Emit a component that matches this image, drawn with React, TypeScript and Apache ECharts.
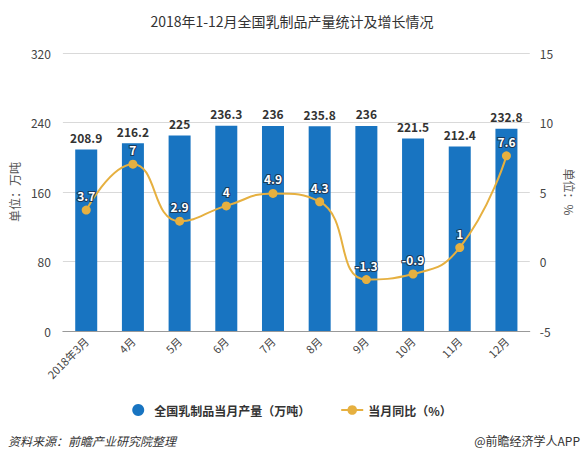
import React, { useEffect, useRef } from "react";
import * as echarts from "echarts";

const categories = ["2018年3月", "4月", "5月", "6月", "7月", "8月", "9月", "10月", "11月", "12月"];
const production = [208.9, 216.2, 225, 236.3, 236, 235.8, 236, 221.5, 212.4, 232.8];
const yoy = [3.7, 7, 2.9, 4, 4.9, 4.3, -1.3, -0.9, 1, 7.6];
const seriesNames = ["全国乳制品当月产量（万吨）", "当月同比（%）"];
const titleText = "2018年1-12月全国乳制品产量统计及增长情况";
const sourceText = "资料来源：前瞻产业研究院整理";
const brandText = "@前瞻经济学人APP";

const FONT = "'Microsoft YaHei', 'Noto Sans CJK SC', sans-serif";

export default function App() {
  const ref = useRef<HTMLDivElement>(null);
  useEffect(() => {
    if (!ref.current) return;
    document.body.style.margin = "0";
    const chart = echarts.init(ref.current, null, { renderer: "svg" });
    chart.setOption({
      animation: false,
      backgroundColor: "#fff",
      textStyle: { fontFamily: FONT },
      title: {
        text: titleText,
        left: "center",
        top: 9,
        textStyle: { fontSize: 14, fontWeight: "normal", color: "#333", fontFamily: FONT },
      },
      legend: {
        bottom: 40,
        left: "center",
        itemGap: 30,
        itemWidth: 22,
        itemHeight: 12,
        textStyle: { fontSize: 12, fontWeight: "bold", color: "#333", fontFamily: FONT },
        data: [
          { name: seriesNames[0], icon: "circle" },
          { name: seriesNames[1] },
        ],
      },
      grid: { left: 61, right: 54, top: 53, bottom: 130 },
      xAxis: {
        type: "category",
        data: categories,
        axisLine: { lineStyle: { color: "#999" } },
        axisTick: { alignWithLabel: true, lineStyle: { color: "#999" } },
        axisLabel: { rotate: 45, fontSize: 11, color: "#444", margin: 8, interval: 0 },
      },
      yAxis: [
        {
          type: "value",
          min: 0,
          max: 320,
          interval: 80,
          name: "单位：万吨",
          nameLocation: "middle",
          nameRotate: 90,
          nameGap: 36,
          nameTextStyle: { fontSize: 12, color: "#555" },
          axisLine: { show: false },
          axisTick: { show: false },
          axisLabel: { fontSize: 12, color: "#444", margin: 12 },
          splitLine: { lineStyle: { color: "#d9d9d9" } },
        },
        {
          type: "value",
          min: -5,
          max: 15,
          interval: 5,
          name: "单位：%",
          nameLocation: "middle",
          nameRotate: -90,
          nameGap: 30,
          nameTextStyle: { fontSize: 12, color: "#555" },
          axisLine: { show: false },
          axisTick: { show: false },
          axisLabel: { fontSize: 12, color: "#444", margin: 10 },
          splitLine: { show: false },
        },
      ],
      series: [
        {
          name: seriesNames[0],
          type: "bar",
          data: production,
          barWidth: 22,
          itemStyle: { color: "#1874C1" },
          label: {
            show: true,
            position: "top",
            distance: 6,
            fontSize: 12,
            fontWeight: "bold",
            color: "#333",
          },
        },
        {
          name: seriesNames[1],
          type: "line",
          yAxisIndex: 1,
          data: yoy,
          smooth: true,
          symbol: "circle",
          symbolSize: 9,
          itemStyle: { color: "#E6B040" },
          lineStyle: { color: "#E6B040", width: 2 },
          label: {
            show: true,
            position: "top",
            distance: 4,
            fontSize: 12,
            fontWeight: "bold",
            color: "#fff",
            textBorderColor: "#1a3a5a",
            textBorderWidth: 2,
          },
        },
      ],
      graphic: [
        {
          type: "text",
          left: 8,
          top: 434,
          style: {
            text: sourceText,
            font: `italic 12px ${FONT}`,
            fill: "#333",
          },
        },
        {
          type: "text",
          right: 4,
          top: 434,
          style: {
            text: brandText,
            font: `12px ${FONT}`,
            fill: "#333",
          },
        },
      ],
    });
    return () => chart.dispose();
  }, []);
  return <div ref={ref} style={{ width: 584, height: 461 }} />;
}
